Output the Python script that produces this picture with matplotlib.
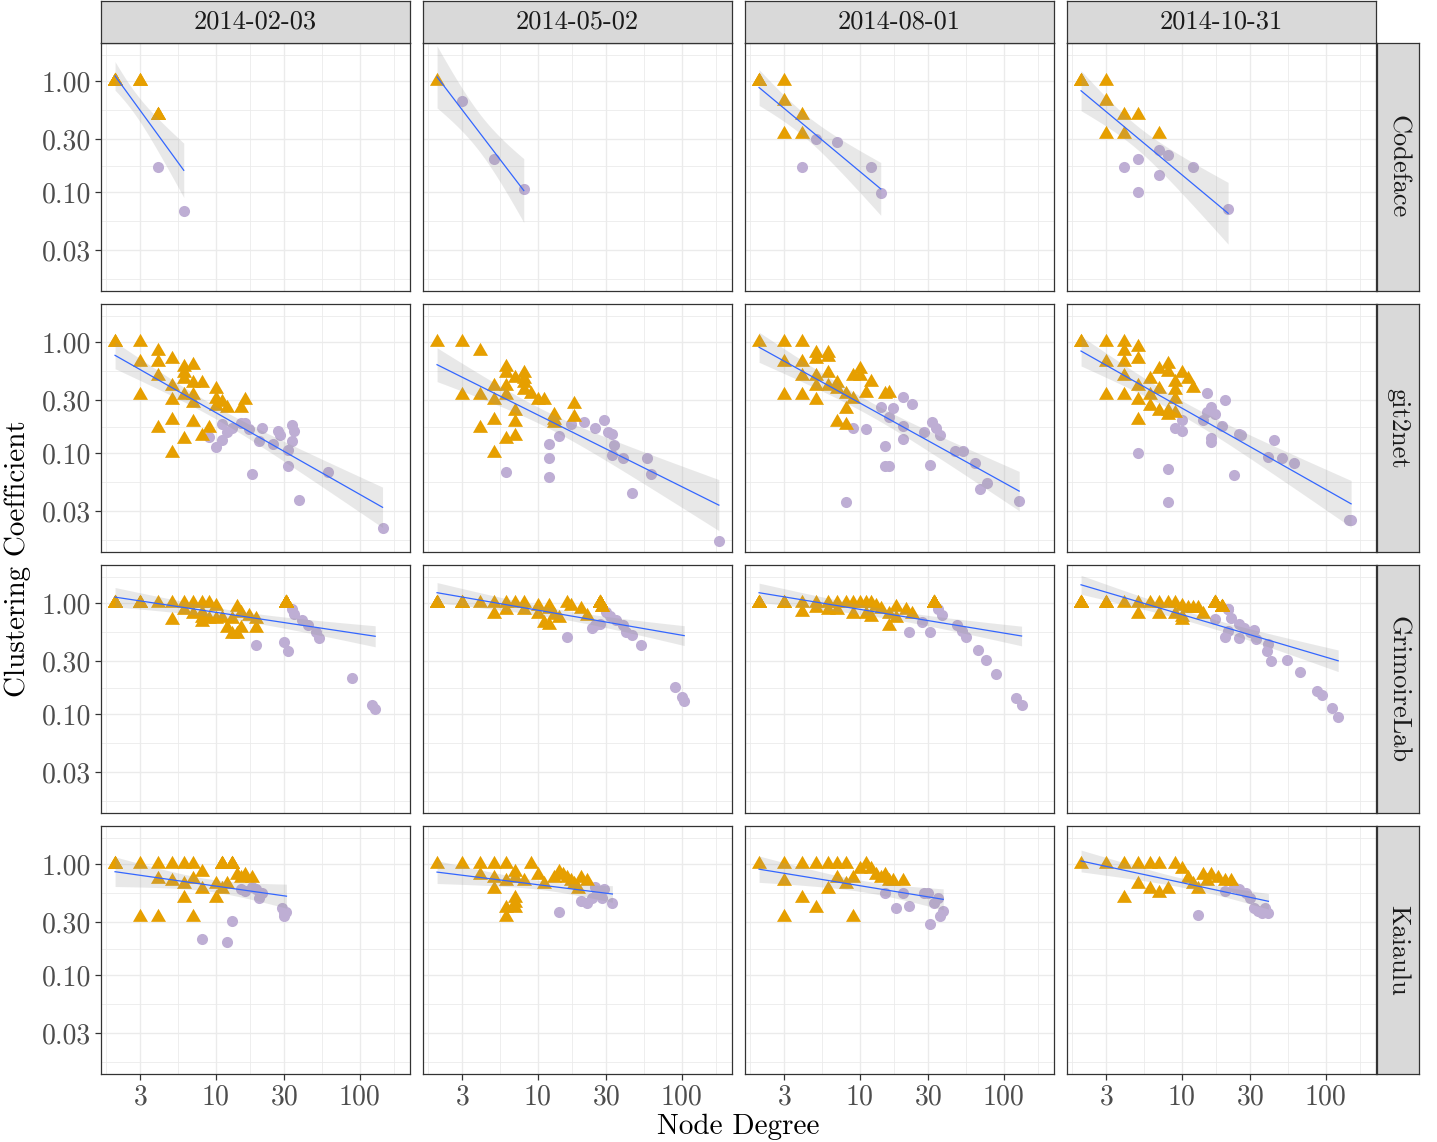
import numpy as np
import matplotlib
matplotlib.use("Agg")
import matplotlib.pyplot as plt
from matplotlib.path import Path
from matplotlib.ticker import FixedLocator, FixedFormatter, NullFormatter

plt.rcParams['font.family'] = ['cmr10', 'DejaVu Serif']
plt.rcParams['axes.formatter.use_mathtext'] = True

DATES = ["2014-02-03", "2014-05-02", "2014-08-01", "2014-10-31"]
PROJECTS = ["Codeface", "git2net", "GrimoireLab", "Kaiaulu"]

X_BREAKS = [3, 10, 30, 100]
Y_BREAKS = [0.03, 0.10, 0.30, 1.00]
Y_LABELS = ["0.03", "0.10", "0.30", "1.00"]

# (degree, clustering coefficient[, number of nodes stacked on that spot])
# TRI = triangle nodes, DOT = circle nodes
CF_0203_TRI = [(2, 1.0, 9), (3, 1.0, 2), (4, 0.5, 3)]
CF_0203_DOT = [(4, 0.167), (6, 0.067)]
CF_0502_TRI = [(2, 1.0)]
CF_0502_DOT = [(3, 0.667), (5, 0.2), (8, 0.107)]
CF_0801_TRI = [(2, 1.0, 3), (3, 1.0), (3, 0.667), (4, 0.5), (3, 0.333), (4, 0.333)]
CF_0801_DOT = [(5, 0.3), (7, 0.286), (4, 0.167), (12, 0.167), (14, 0.099)]
CF_1031_TRI = [(2, 1.0, 3), (3, 1.0), (3, 0.667), (4, 0.5), (5, 0.5), (3, 0.333),
               (4, 0.333), (7, 0.333)]
CF_1031_DOT = [(7, 0.238), (8, 0.214), (5, 0.2), (4, 0.167), (12, 0.167),
               (7, 0.143), (5, 0.1), (21, 0.071)]

G2N_0203_TRI = [(2, 1.0, 2), (3, 1.0), (4, 0.833), (3, 0.667), (4, 0.667), (5, 0.7),
                (6, 0.6), (7, 0.619), (6, 0.533), (6, 0.467), (4, 0.5), (5, 0.4),
                (6, 0.333), (7, 0.43), (8, 0.43), (7, 0.333), (7, 0.286), (5, 0.3),
                (3, 0.333), (10, 0.378), (10, 0.31), (10, 0.264), (11, 0.29),
                (12, 0.255), (15, 0.255), (16, 0.3), (5, 0.2), (4, 0.167), (7, 0.19),
                (8, 0.143), (6, 0.133), (9, 0.167), (5, 0.1)]
G2N_0203_DOT = [(9, 0.139), (10, 0.113), (11, 0.13), (11, 0.183), (12, 0.155),
                (13, 0.168), (15, 0.185), (16, 0.185), (17, 0.165), (20, 0.128),
                (21, 0.168), (18, 0.065), (25, 0.121), (27, 0.159), (28, 0.145),
                (32, 0.106), (32, 0.077), (34, 0.178), (35, 0.159), (34, 0.128),
                (38, 0.038), (60, 0.068), (144, 0.021)]
G2N_0502_TRI = [(2, 1.0), (3, 1.0), (4, 0.833), (6, 0.6), (6, 0.533), (7, 0.48),
                (8, 0.533), (8, 0.467), (8, 0.43), (5, 0.4), (6, 0.4), (6, 0.333),
                (4, 0.333), (3, 0.333), (5, 0.3), (8, 0.37), (9, 0.34), (10, 0.3),
                (11, 0.3), (7, 0.24), (7, 0.19), (5, 0.2), (4, 0.167), (6, 0.133),
                (7, 0.143), (5, 0.1), (13, 0.22), (13, 0.2), (13, 0.185), (18, 0.28),
                (18, 0.21)]
G2N_0502_DOT = [(6, 0.067), (12, 0.12), (12, 0.09), (12, 0.061), (14, 0.143),
                (17, 0.183), (21, 0.19), (25, 0.167), (29, 0.2), (31, 0.155),
                (33, 0.15), (34, 0.118), (33, 0.096), (39, 0.09), (45, 0.044),
                (57, 0.09), (61, 0.065), (181, 0.016)]
G2N_0801_TRI = [(2, 1.0), (3, 1.0), (4, 1.0), (3, 0.667), (4, 0.667), (5, 0.8),
                (5, 0.7), (6, 0.8), (6, 0.73), (4, 0.5), (5, 0.5), (6, 0.533),
                (5, 0.4), (6, 0.4), (7, 0.43), (7, 0.38), (3, 0.333), (4, 0.333),
                (5, 0.3), (8, 0.34), (9, 0.31), (8, 0.25), (7, 0.19), (8, 0.18),
                (9, 0.5), (10, 0.57), (10, 0.5), (12, 0.44), (11, 0.35), (15, 0.34),
                (16, 0.35)]
G2N_0801_DOT = [(8, 0.036), (9, 0.167), (11, 0.165), (14, 0.26), (17, 0.257),
                (20, 0.32), (23, 0.28), (16, 0.21), (20, 0.175), (20, 0.133),
                (15, 0.116), (15, 0.077), (16, 0.077), (28, 0.155), (32, 0.19),
                (34, 0.167), (36, 0.146), (31, 0.078), (46, 0.105), (52, 0.105),
                (63, 0.081), (77, 0.054), (68, 0.047), (128, 0.037)]
G2N_1031_TRI = [(2, 1.0, 2), (3, 1.0), (4, 1.0), (4, 0.833), (5, 0.9), (3, 0.667),
                (4, 0.667), (5, 0.7), (4, 0.5), (5, 0.4), (6, 0.467), (7, 0.57),
                (8, 0.64), (8, 0.54), (7, 0.38), (6, 0.333), (3, 0.333), (4, 0.333),
                (5, 0.3), (5, 0.2), (6, 0.267), (7, 0.24), (8, 0.24), (8, 0.22),
                (9, 0.23), (9, 0.44), (9, 0.37), (9, 0.31), (10, 0.53), (11, 0.47),
                (12, 0.39)]
G2N_1031_DOT = [(5, 0.1), (8, 0.072), (8, 0.036), (15, 0.345), (20, 0.3), (16, 0.26),
                (15, 0.235), (17, 0.225), (14, 0.2), (19, 0.177), (10, 0.2),
                (9, 0.167), (10, 0.157), (16, 0.137), (16, 0.127), (25, 0.15),
                (26, 0.145), (44, 0.13), (23, 0.063), (40, 0.093), (50, 0.09),
                (60, 0.082), (144, 0.025), (150, 0.025)]

GL_0203_TRI = [(2, 1.0, 7), (3, 1.0, 4), (4, 1.0), (5, 1.0), (6, 1.0), (7, 1.0),
               (8, 1.0), (9, 1.0), (10, 0.95), (5, 0.7), (6, 0.87), (7, 0.8),
               (8, 0.74), (9, 0.72), (8, 0.82), (8, 0.68), (10, 0.72), (11, 0.74),
               (13, 0.72), (14, 0.93), (15, 0.82), (17, 0.76), (19, 0.72), (19, 0.6),
               (15, 0.6), (12, 0.6), (13, 0.53), (14, 0.53), (31, 1.0, 20)]
GL_0203_DOT = [(34, 0.88), (35, 0.8), (40, 0.7), (44, 0.64), (50, 0.55), (52, 0.49),
               (19, 0.42), (30, 0.45), (32, 0.37), (88, 0.21), (121, 0.121),
               (128, 0.11)]
GL_0502_TRI = [(2, 1.0, 6), (3, 1.0, 3), (4, 1.0), (5, 1.0), (6, 1.0), (7, 1.0),
               (8, 1.0), (10, 0.95), (12, 0.95), (16, 1.0), (17, 0.95), (27, 1.0, 16),
               (28, 0.93, 2), (5, 0.8), (6, 0.87), (8, 0.87), (10, 0.8), (12, 0.88),
               (13, 0.78), (14, 0.74), (11, 0.67), (12, 0.64), (20, 0.88), (22, 0.77)]
GL_0502_DOT = [(16, 0.5), (24, 0.6), (25, 0.64), (27, 0.65), (30, 0.84), (32, 0.76),
               (35, 0.71), (39, 0.64), (41, 0.555), (45, 0.52), (52, 0.42),
               (90, 0.174), (100, 0.143), (104, 0.13)]
GL_0801_TRI = [(2, 1.0, 6), (3, 1.0, 3), (4, 1.0), (4, 0.83), (5, 1.0), (6, 1.0),
               (7, 1.0), (8, 1.0), (9, 1.0), (10, 1.0), (11, 1.0), (12, 1.0),
               (13, 0.95), (5, 0.9), (6, 0.87), (7, 0.87), (9, 0.8), (11, 0.8),
               (12, 0.75), (14, 0.88), (16, 0.8), (18, 0.93), (21, 0.87), (23, 0.8),
               (16, 0.63), (18, 0.73), (33, 1.0, 18)]
GL_0801_DOT = [(35, 0.88), (37, 0.79), (47, 0.64), (51, 0.56), (55, 0.5), (22, 0.555),
               (27, 0.68), (31, 0.555), (66, 0.38), (75, 0.31), (88, 0.23),
               (122, 0.139), (133, 0.12)]
GL_1031_TRI = [(2, 1.0, 8), (3, 1.0, 3), (4, 1.0), (5, 1.0), (5, 0.8), (6, 1.0),
               (7, 1.0), (7, 0.8), (8, 1.0), (9, 1.0), (10, 0.95), (10, 0.75),
               (11, 0.9), (12, 0.9), (13, 0.9), (14, 0.8), (17, 1.0, 11),
               (19, 0.93, 5), (9, 0.8), (10, 0.7)]
GL_1031_DOT = [(17, 0.72), (21, 0.88, 3), (22, 0.73), (25, 0.65), (27, 0.6),
               (30, 0.555), (32, 0.57), (33, 0.48), (20, 0.5), (21, 0.56), (25, 0.49),
               (40, 0.43), (39, 0.37), (42, 0.3), (54, 0.31), (66, 0.24), (87, 0.16),
               (94, 0.149), (110, 0.113), (122, 0.094)]

KA_0203_TRI = [(2, 1.0, 3), (3, 1.0), (4, 1.0), (5, 1.0), (6, 1.0), (7, 1.0),
               (8, 0.85), (11, 1.0, 4), (13, 1.0, 4), (4, 0.73), (5, 0.7), (6, 0.67),
               (7, 0.73), (8, 0.6), (6, 0.5), (10, 0.67), (10, 0.5), (11, 0.6),
               (12, 0.67), (14, 0.8), (15, 0.75), (16, 0.8), (7, 0.333), (3, 0.333),
               (4, 0.333), (18, 0.75)]
KA_0203_DOT = [(8, 0.21), (12, 0.2), (13, 0.31), (15, 0.6), (16, 0.57), (18, 0.63),
               (19, 0.6), (20, 0.5), (21, 0.55), (29, 0.4), (30, 0.36), (31, 0.37),
               (30, 0.34)]
KA_0502_TRI = [(2, 1.0), (3, 1.0), (4, 1.0), (5, 1.0), (6, 1.0), (7, 0.85), (9, 1.0),
               (4, 0.8), (5, 0.75), (6, 0.7), (7, 0.75), (8, 0.7), (5, 0.6),
               (6, 0.4), (6, 0.333), (7, 0.5), (7, 0.45), (7, 0.4), (10, 0.8),
               (11, 0.67), (13, 0.75), (14, 0.85), (15, 0.8), (16, 0.75), (17, 0.7),
               (18, 0.67), (19, 0.6), (20, 0.75), (22, 0.7)]
KA_0502_DOT = [(14, 0.37), (20, 0.47), (22, 0.45), (24, 0.5), (25, 0.62), (26, 0.58),
               (27, 0.55), (28, 0.5), (29, 0.6), (33, 0.45)]
KA_0801_TRI = [(2, 1.0), (3, 1.0), (4, 1.0), (5, 1.0), (6, 1.0), (7, 1.0), (8, 1.0),
               (3, 0.7), (4, 0.5), (5, 0.4), (6, 0.6), (7, 0.75), (8, 0.67),
               (9, 0.333), (9, 0.75), (10, 0.9), (11, 1.0), (12, 0.9), (13, 0.8),
               (14, 0.75), (15, 0.8), (16, 0.7), (3, 0.333), (17, 0.7), (20, 0.7)]
KA_0801_DOT = [(15, 0.55), (18, 0.4), (20, 0.55), (22, 0.42), (28, 0.55), (30, 0.55),
               (31, 0.29), (33, 0.45), (35, 0.5), (36, 0.34), (38, 0.38)]
KA_1031_TRI = [(2, 1.0), (3, 1.0), (4, 1.0), (5, 1.0), (6, 1.0), (7, 1.0), (9, 1.0),
               (4, 0.5), (5, 0.67), (6, 0.6), (7, 0.55), (8, 0.6), (10, 0.9),
               (11, 0.75), (12, 0.67), (13, 0.6), (14, 0.8), (15, 0.7), (16, 0.8),
               (18, 0.75), (20, 0.7), (22, 0.7)]
KA_1031_DOT = [(13, 0.35), (20, 0.58), (23, 0.63), (25, 0.6), (28, 0.55), (30, 0.5),
               (32, 0.4), (34, 0.38), (36, 0.36), (38, 0.4), (40, 0.36)]

PANELS = {
    "Codeface": [(CF_0203_TRI, CF_0203_DOT), (CF_0502_TRI, CF_0502_DOT),
                 (CF_0801_TRI, CF_0801_DOT), (CF_1031_TRI, CF_1031_DOT)],
    "git2net": [(G2N_0203_TRI, G2N_0203_DOT), (G2N_0502_TRI, G2N_0502_DOT),
                (G2N_0801_TRI, G2N_0801_DOT), (G2N_1031_TRI, G2N_1031_DOT)],
    "GrimoireLab": [(GL_0203_TRI, GL_0203_DOT), (GL_0502_TRI, GL_0502_DOT),
                    (GL_0801_TRI, GL_0801_DOT), (GL_1031_TRI, GL_1031_DOT)],
    "Kaiaulu": [(KA_0203_TRI, KA_0203_DOT), (KA_0502_TRI, KA_0502_DOT),
                (KA_0801_TRI, KA_0801_DOT), (KA_1031_TRI, KA_1031_DOT)],
}

ORANGE = "#E69F00"
PURPLE = "#BEAED4"
BLUE = "#3366FF"
GRID = "#EBEBEB"
DARK = "#333333"

# triangle with its centroid on the data point (like ggplot shape 17)
TRI_MARKER = Path([(0, 1), (-0.866, -0.5), (0.866, -0.5), (0, 1)],
                  [Path.MOVETO, Path.LINETO, Path.LINETO, Path.CLOSEPOLY])

T_TABLE = {1: 12.706, 2: 4.303, 3: 3.182, 4: 2.776, 5: 2.571, 6: 2.447, 7: 2.365,
           8: 2.306, 9: 2.262, 10: 2.228, 12: 2.179, 15: 2.131, 20: 2.086,
           30: 2.042, 60: 2.000, 120: 1.980, 10000: 1.960}


def t975(df):
    keys = sorted(T_TABLE)
    inv = [1.0 / k for k in keys]
    return float(np.interp(1.0 / df, inv[::-1], [T_TABLE[k] for k in keys][::-1]))


def expand(pts):
    # one row per node
    deg, cc = [], []
    for p in pts:
        n = p[2] if len(p) > 2 else 1
        deg += [p[0]] * n
        cc += [p[1]] * n
    return np.array(deg, float), np.array(cc, float)


def smooth(ax, deg, cc):
    # lm fit of log10(cc) ~ log10(degree) with 95% band
    x = np.log10(deg)
    y = np.log10(cc)
    n = len(x)
    b1, b0 = np.polyfit(x, y, 1)
    resid = y - (b0 + b1 * x)
    s = np.sqrt(np.sum(resid ** 2) / (n - 2))
    xm = x.mean()
    sxx = np.sum((x - xm) ** 2)
    xs = np.linspace(x.min(), x.max(), 80)
    yh = b0 + b1 * xs
    se = s * np.sqrt(1.0 / n + (xs - xm) ** 2 / sxx)
    t = t975(n - 2)
    ax.fill_between(10 ** xs, 10 ** (yh - t * se), 10 ** (yh + t * se),
                    color="#999999", alpha=0.22, lw=0, zorder=3)
    ax.plot(10 ** xs, 10 ** yh, color=BLUE, lw=0.9, zorder=4)


W, H = 1437, 1142
fig = plt.figure(figsize=(W / 100, H / 100), dpi=100)


def box(x0, y0, w, h):
    return [x0 / W, 1 - (y0 + h) / H, w / W, h / H]


def strip(x0, y0, w, h, label, rot):
    sax = fig.add_axes(box(x0, y0, w, h))
    sax.set_facecolor("#D9D9D9")
    sax.set_xticks([])
    sax.set_yticks([])
    for sp in sax.spines.values():
        sp.set_color(DARK)
        sp.set_linewidth(0.9)
    sax.text(0.5, 0.5, label, ha="center", va="center", fontsize=19,
             rotation=rot, color="#1A1A1A", transform=sax.transAxes)


x_lo, x_hi = 10 ** 0.2035, 10 ** 2.349
y_lo, y_hi = 10 ** -1.893, 10 ** 0.3457
x_minor = [10 ** v for v in [0.2386, 0.7386, 1.2386, 1.7386, 2.2386]]
y_minor = [10 ** v for v in [-1.7847, -1.2614, -0.7614, -0.2614, 0.2386]]

for r, proj in enumerate(PROJECTS):
    for c, date in enumerate(DATES):
        x0 = 101 + 322 * c
        y0 = 43 + 261 * r
        ax = fig.add_axes(box(x0, y0, 309, 248))
        ax.set_xscale("log")
        ax.set_yscale("log")
        ax.set_xlim(x_lo, x_hi)
        ax.set_ylim(y_lo, y_hi)
        ax.xaxis.set_major_locator(FixedLocator(X_BREAKS))
        ax.xaxis.set_minor_locator(FixedLocator(x_minor))
        ax.yaxis.set_major_locator(FixedLocator(Y_BREAKS))
        ax.yaxis.set_minor_locator(FixedLocator(y_minor))
        ax.xaxis.set_minor_formatter(NullFormatter())
        ax.yaxis.set_minor_formatter(NullFormatter())
        ax.grid(True, which="major", color=GRID, lw=1.0, zorder=0)
        ax.grid(True, which="minor", color=GRID, lw=0.6, zorder=0)
        ax.set_axisbelow(True)
        for sp in ax.spines.values():
            sp.set_color(DARK)
            sp.set_linewidth(0.9)
        ax.tick_params(which="minor", length=0)
        ax.tick_params(which="major", length=4, width=0.9, color=DARK,
                       labelcolor="#4D4D4D", labelsize=20, pad=3)
        if r == len(PROJECTS) - 1:
            ax.xaxis.set_major_formatter(FixedFormatter([str(v) for v in X_BREAKS]))
        else:
            ax.tick_params(axis="x", which="major", length=0, labelbottom=False)
        if c == 0:
            ax.yaxis.set_major_formatter(FixedFormatter(Y_LABELS))
        else:
            ax.tick_params(axis="y", which="major", length=0, labelleft=False)

        tri, dot = PANELS[proj][c]
        td, tc = expand(tri)
        dd, dc = expand(dot)
        ax.plot(dd, dc, "o", ms=8, color=PURPLE, mec="none", zorder=2)
        ax.plot(td, tc, ls="none", marker=TRI_MARKER, ms=12.5, color=ORANGE,
                mec="none", zorder=2)
        smooth(ax, np.concatenate([td, dd]), np.concatenate([tc, dc]))

        if r == 0:
            strip(x0, 0.5, 309, 42.5, date, 0)
        if c == len(DATES) - 1:
            strip(1377, y0, 42, 248, proj, -90)

fig.text(18 / W, 1 - 558.5 / H, "Clustering Coefficient", rotation=90,
         ha="center", va="center", fontsize=21)
fig.text(738.5 / W, 1 - 1127 / H, "Node Degree", ha="center", va="center",
         fontsize=21)

fig.savefig("out.png", dpi=100)
